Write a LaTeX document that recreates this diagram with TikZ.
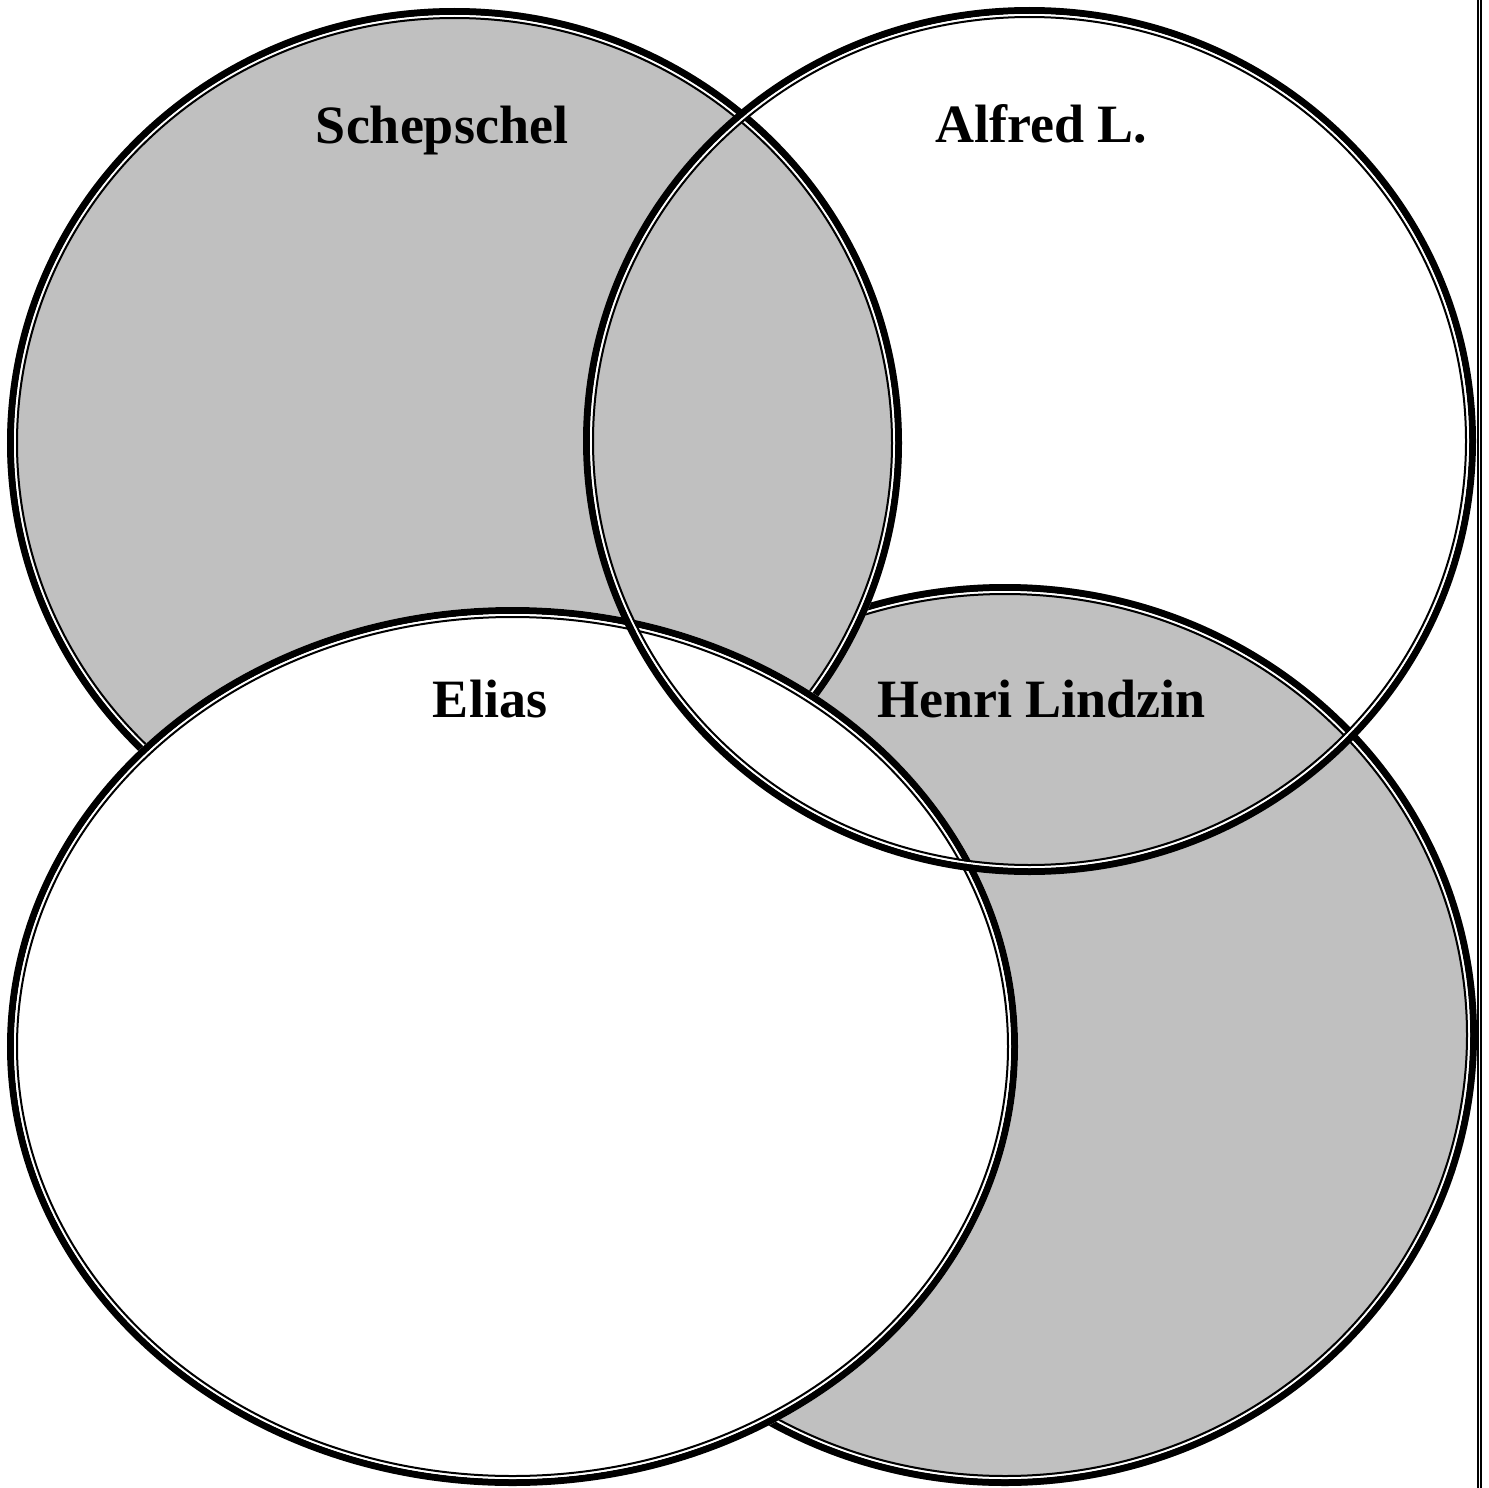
\documentclass[tikz,border=0pt]{standalone}
\usepackage{fontspec}
\setmainfont{Liberation Serif}
\definecolor{vgray}{RGB}{192,192,192}
\newcommand\vennring[4]{%
  \draw[thickring] (#1,#2) ellipse [x radius={#3pt-3.5pt}, y radius={#4pt-3.5pt}];
  \draw[gapring] (#1,#2) ellipse [x radius={#3pt-8pt}, y radius={#4pt-8pt}];
  \draw[thinring] (#1,#2) ellipse [x radius={#3pt-10pt}, y radius={#4pt-10pt}];
}
\begin{document}
\begin{tikzpicture}[x=1pt,y=-1pt,
  thickring/.style={draw=black,line width=7pt},
  gapring/.style={draw=white,line width=2pt},
  thinring/.style={draw=black,line width=2pt},
  grayfill/.style={fill=vgray},
  whitefill/.style={fill=white},
  edgeline/.style={draw=black,line width=1.6pt},
  label/.style={font=\fontsize{54}{60}\selectfont\bfseries,inner sep=0pt,anchor=base}]
\useasboundingbox (0,0) rectangle (1489,1488);
% Henri Lindzin
\path[grayfill] (1005,1035) ellipse [x radius=472pt, y radius=451pt];
\vennring{1005}{1035}{472}{451}
% Schepschel
\path[grayfill] (454.5,443) ellipse [x radius=447.5pt, y radius=435pt];
\vennring{454.5}{443}{447.5}{435}
% Elias
\path[whitefill] (512.5,1046.5) ellipse [x radius=505.5pt, y radius=439.5pt];
\vennring{512.5}{1046.5}{505.5}{439.5}
% Alfred L. (outline only)
\vennring{1029.5}{441}{446.5}{434}
% right edge double rule
\coordinate (r1t) at (1478.2,0);
\coordinate (r1b) at (1478.2,1488);
\coordinate (r2t) at (1481.2,0);
\coordinate (r2b) at (1481.2,1488);
\draw[edgeline] (r1t) -- (r1b);
\draw[edgeline] (r2t) -- (r2b);
% labels
\node[label] (schep) at (442,143) {Schepschel};
\node[label] (alfred) at (1041.5,142) {Alfred L.};
\node[label] (elias) at (490,717) {Elias};
\node[label] (henri) at (1041.5,717) {Henri Lindzin};
\end{tikzpicture}
\end{document}
